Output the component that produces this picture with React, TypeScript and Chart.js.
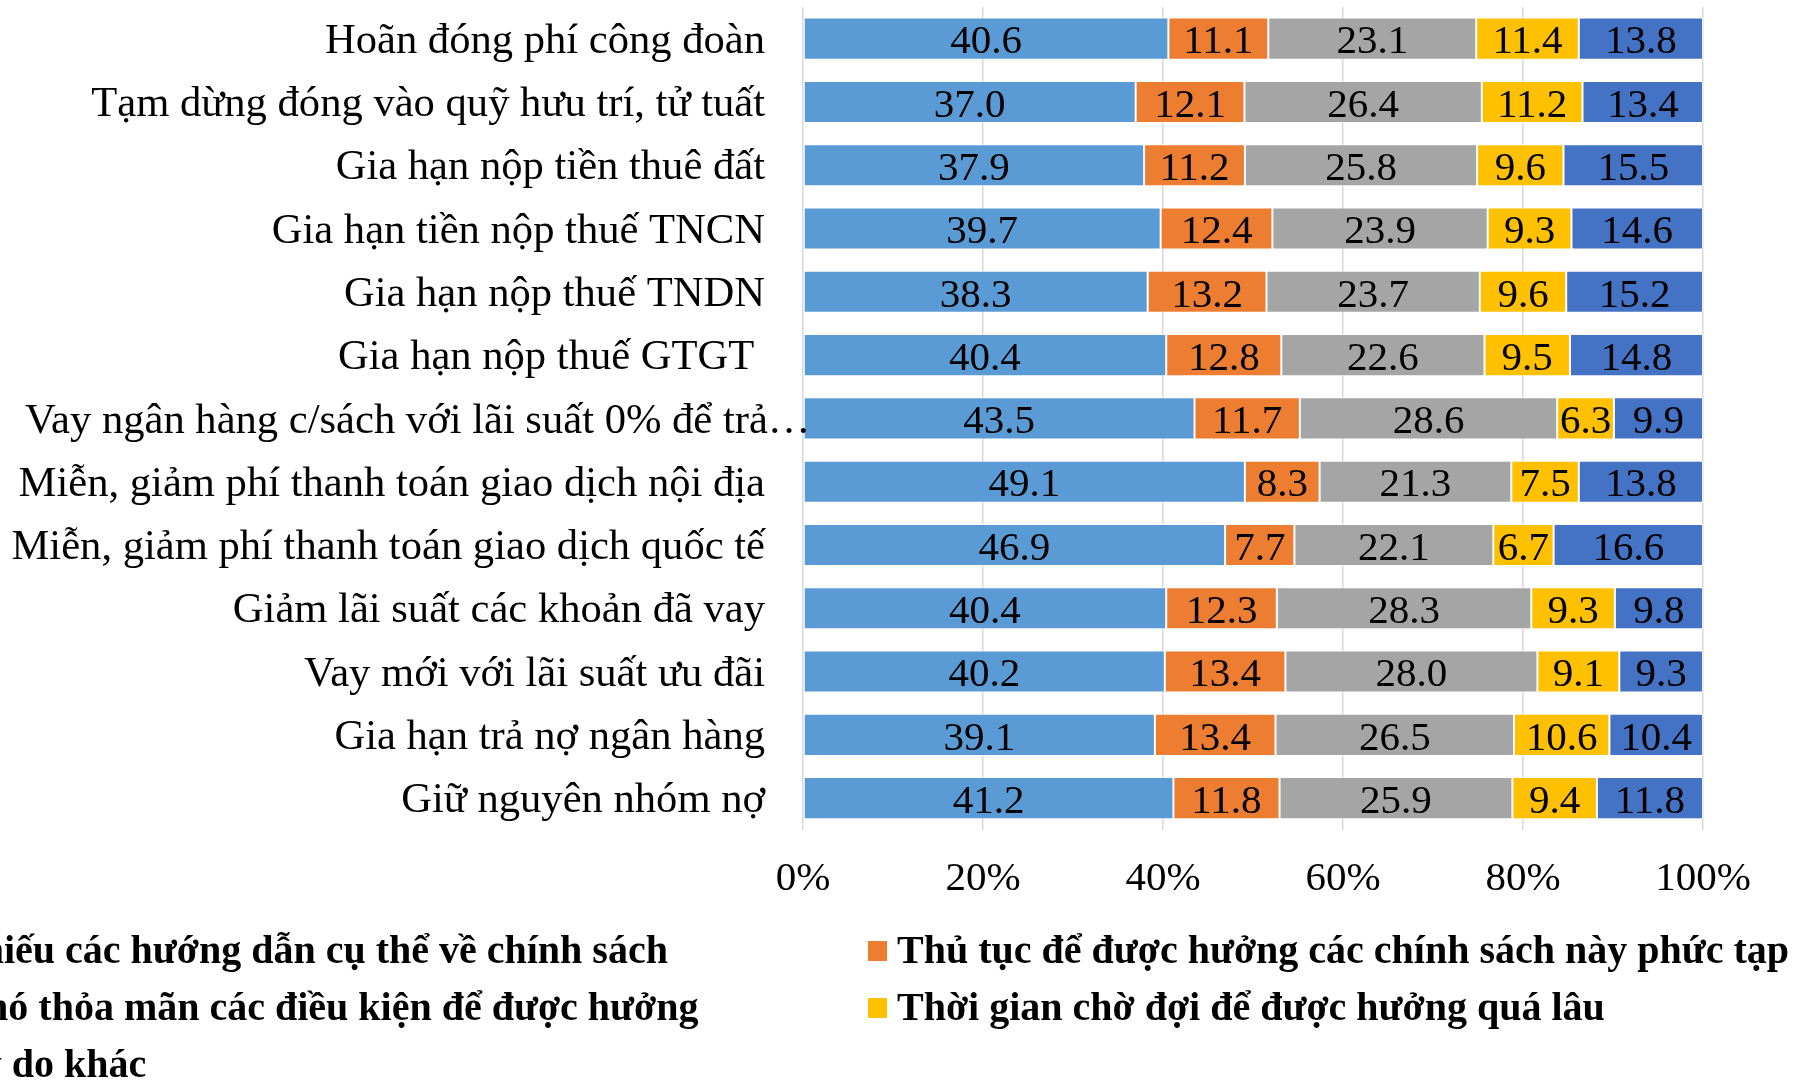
import React, { useEffect, useRef } from "react";
import { Chart, registerables } from "chart.js";

Chart.register(...registerables);

const categories = [
  "Hoãn đóng phí công đoàn",
  "Tạm dừng đóng vào quỹ hưu trí, tử tuất",
  "Gia hạn nộp tiền thuê đất",
  "Gia hạn tiền nộp thuế TNCN",
  "Gia hạn nộp thuế TNDN",
  "Gia hạn nộp thuế GTGT ",
  "Vay ngân hàng c/sách với lãi suất 0% để trả…",
  "Miễn, giảm phí thanh toán giao dịch nội địa",
  "Miễn, giảm phí thanh toán giao dịch quốc tế",
  "Giảm lãi suất các khoản đã vay",
  "Vay mới với lãi suất ưu đãi",
  "Gia hạn trả nợ ngân hàng",
  "Giữ nguyên nhóm nợ",
];

const seriesNames = [
  "Thiếu các hướng dẫn cụ thể về chính sách",
  "Thủ tục để được hưởng các chính sách này phức tạp",
  "Khó thỏa mãn các điều kiện để được hưởng",
  "Thời gian chờ đợi để được hưởng quá lâu",
  "Lý do khác",
];

const seriesColors = ["#5B9BD5", "#ED7D31", "#A5A5A5", "#FFC000", "#4472C4"];

const lackGuidance = [40.6, 37.0, 37.9, 39.7, 38.3, 40.4, 43.5, 49.1, 46.9, 40.4, 40.2, 39.1, 41.2];
const complexProcedure = [11.1, 12.1, 11.2, 12.4, 13.2, 12.8, 11.7, 8.3, 7.7, 12.3, 13.4, 13.4, 11.8];
const hardConditions = [23.1, 26.4, 25.8, 23.9, 23.7, 22.6, 28.6, 21.3, 22.1, 28.3, 28.0, 26.5, 25.9];
const longWait = [11.4, 11.2, 9.6, 9.3, 9.6, 9.5, 6.3, 7.5, 6.7, 9.3, 9.1, 10.6, 9.4];
const otherReasons = [13.8, 13.4, 15.5, 14.6, 15.2, 14.8, 9.9, 13.8, 16.6, 9.8, 9.3, 10.4, 11.8];

const seriesValues = [lackGuidance, complexProcedure, hardConditions, longWait, otherReasons];

const xTickValues = [0, 20, 40, 60, 80, 100];

const FONT = '"Liberation Serif", "Times New Roman", serif';

export default function App() {
  const canvasRef = useRef<HTMLCanvasElement | null>(null);

  useEffect(() => {
    let chart: Chart | null = null;
    let cancelled = false;

    const rowSums = categories.map((_, i) =>
      seriesValues.reduce((s, arr) => s + arr[i], 0)
    );

    const dataLabelPlugin = {
      id: "dataLabels",
      afterDatasetsDraw(c: any) {
        const ctx = c.ctx;
        ctx.save();
        ctx.font = `41px ${FONT}`;
        ctx.fillStyle = "#000";
        ctx.textAlign = "center";
        ctx.textBaseline = "middle";
        c.data.datasets.forEach((ds: any, di: number) => {
          const meta = c.getDatasetMeta(di);
          meta.data.forEach((bar: any, i: number) => {
            const p = bar.getProps(["x", "base", "y"], true);
            ctx.fillText(seriesValues[di][i].toFixed(1), (p.x + p.base) / 2, p.y + 4);
          });
        });
        ctx.restore();
      },
    };

    const categoryLabelPlugin = {
      id: "categoryLabels",
      afterDraw(c: any) {
        const ctx = c.ctx;
        const yScale = c.scales.y;
        ctx.save();
        ctx.font = `42.6px ${FONT}`;
        ctx.fillStyle = "#000";
        ctx.textBaseline = "middle";
        const rightX = c.chartArea.left - 38;
        c.data.labels.forEach((label: string, i: number) => {
          const y = yScale.getPixelForValue(i) + 3;
          const w = ctx.measureText(label).width;
          if (w > rightX - 4) {
            ctx.textAlign = "left";
            ctx.fillText(label, 25, y);
          } else {
            ctx.textAlign = "right";
            ctx.fillText(label, rightX, y);
          }
        });
        ctx.restore();
      },
    };

    const legendPlugin = {
      id: "customLegend",
      afterDraw(c: any) {
        const ctx = c.ctx;
        ctx.save();
        ctx.font = `bold 40px ${FONT}`;
        ctx.fillStyle = "#000";
        ctx.textBaseline = "middle";
        ctx.textAlign = "left";
        c.data.datasets.forEach((ds: any, i: number) => {
          const col = i % 2;
          const row = Math.floor(i / 2);
          const textX = col === 0 ? -45 : 897;
          const cy = 951 + row * 57;
          ctx.fillStyle = ds.backgroundColor;
          ctx.fillRect(textX - 29, cy - 10, 19, 20);
          ctx.fillStyle = "#000";
          ctx.fillText(ds.label, textX, cy + 2);
        });
        ctx.restore();
      },
    };

    const build = () => {
      if (cancelled || !canvasRef.current) return;
      chart = new Chart(canvasRef.current, {
        type: "bar",
        data: {
          labels: categories,
          datasets: seriesValues.map((vals, k) => ({
            label: seriesNames[k],
            data: vals.map((v, i) => (v / rowSums[i]) * 100),
            backgroundColor: seriesColors[k],
            borderColor: "rgba(255,255,255,0.55)",
            borderWidth: 1,
            borderSkipped: false,
            barPercentage: 0.665,
            categoryPercentage: 1,
          })),
        },
        options: {
          indexAxis: "y",
          responsive: false,
          animation: false,
          devicePixelRatio: 1,
          layout: { padding: { left: 803, right: 90, top: 7, bottom: 152 } },
          scales: {
            x: {
              stacked: true,
              min: 0,
              max: 100,
              afterBuildTicks: (scale: any) => {
                scale.ticks = xTickValues.map((v) => ({ value: v }));
              },
              ticks: {
                callback: (v: any) => `${v}%`,
                font: { family: FONT, size: 41 },
                color: "#000",
                padding: 25,
                maxRotation: 0,
              },
              grid: { color: "#d9d9d9", lineWidth: 1.5, drawTicks: false },
              border: { display: false },
            },
            y: { stacked: true, display: false },
          },
          plugins: {
            legend: { display: false },
            tooltip: { enabled: false },
          },
        },
        plugins: [dataLabelPlugin, categoryLabelPlugin, legendPlugin],
      } as any);
    };

    const fontsReady = (document as any).fonts
      ? Promise.all([
          (document as any).fonts.load(`42px "Liberation Serif"`),
          (document as any).fonts.load(`bold 40px "Liberation Serif"`),
        ]).catch(() => null)
      : Promise.resolve(null);
    fontsReady.then(build);

    return () => {
      cancelled = true;
      if (chart) chart.destroy();
    };
  }, []);

  return (
    <div style={{ position: "absolute", left: 0, top: 0, width: 1793, height: 1081, background: "#fff" }}>
      <canvas ref={canvasRef} width={1793} height={1081} style={{ display: "block" }} />
    </div>
  );
}
